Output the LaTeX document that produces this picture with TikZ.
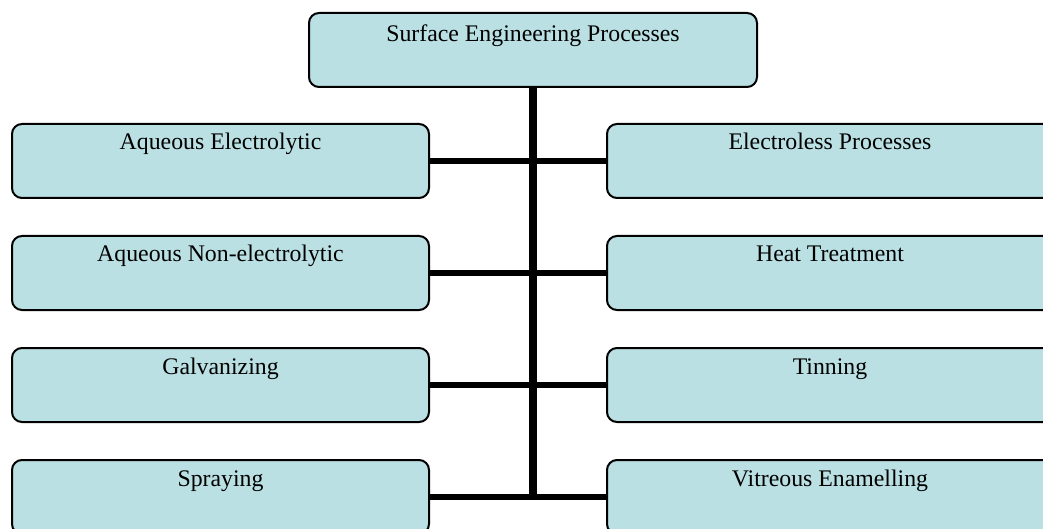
\documentclass[tikz,border=0pt]{standalone}
\usepackage{fontspec}
\setmainfont{Liberation Serif}
\definecolor{boxfill}{RGB}{186,224,227}

\begin{document}
\begin{tikzpicture}[x=0.5pt,y=-0.5pt,
  procbox/.style={draw=black,line width=1pt,fill=boxfill,rounded corners=5pt,
    inner sep=0pt,anchor=base,text height=13pt,text depth=24pt,
    font=\fontsize{11.9}{14}\selectfont},
  leftbox/.style={procbox,minimum width=208.5pt},
  rightbox/.style={procbox,minimum width=223pt},
  trunk/.style={line width=3.8pt},
  branch/.style={line width=2.7pt}]
\clip (0,0) rectangle (1043,529);
\node[procbox,minimum width=224pt,text height=14.5pt,text depth=22.5pt] (sep) at (533,42) {Surface Engineering Processes};
% left column
\node[leftbox] (ae) at (220.5,150) {Aqueous Electrolytic};
\node[leftbox] (ane) at (220.5,262) {Aqueous Non-electrolytic};
\node[leftbox] (galv) at (220.5,374) {Galvanizing};
\node[leftbox] (spray) at (220.5,486) {Spraying};
% right column
\node[rightbox] (el) at (830,150) {Electroless Processes};
\node[rightbox] (heat) at (830,262) {Heat Treatment};
\node[rightbox] (tin) at (830,374) {Tinning};
\node[rightbox] (vit) at (830,486) {Vitreous Enamelling};
% connectors
\draw[trunk] (sep.south) -- (sep.south |- spray.east);
\foreach \l/\r in {ae/el,ane/heat,galv/tin,spray/vit}
  \draw[branch] (\l.east) -- (\r.west);
\end{tikzpicture}
\end{document}
